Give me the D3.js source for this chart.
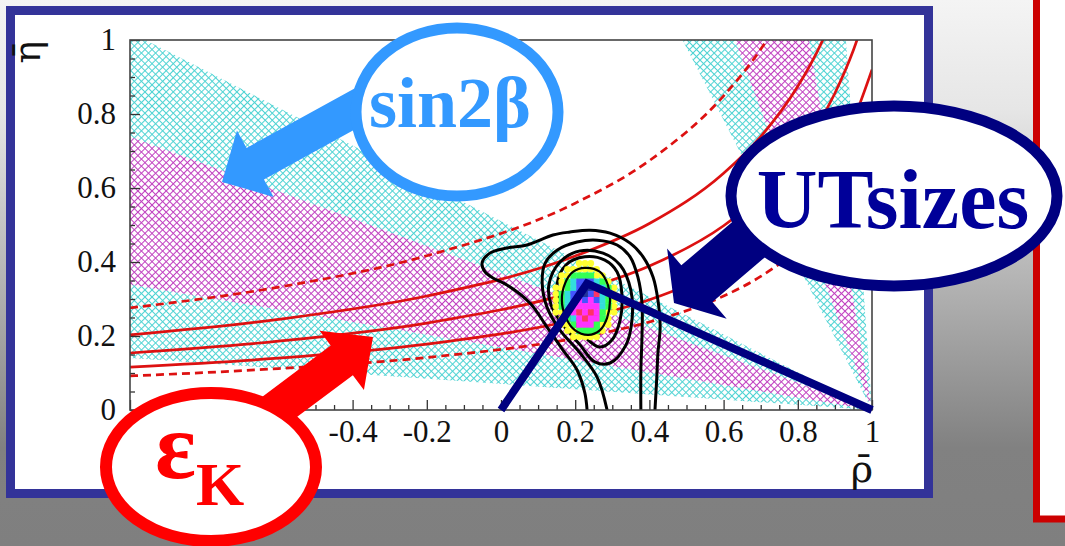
<!DOCTYPE html>
<html>
<head>
<meta charset="utf-8">
<script src="https://cdn.jsdelivr.net/npm/d3@7"></script>
<style>
  html, body { margin: 0; padding: 0; background: #fff; }
  svg { display: block; }
</style>
</head>
<body>
<div id="chart"></div>
<script>
// ---- data ----
const xMajorTicks = [-1, -0.8, -0.6, -0.4, -0.2, 0, 0.2, 0.4, 0.6, 0.8, 1];
const xTickLabels = [-0.4, -0.2, 0, 0.2, 0.4, 0.6, 0.8, 1];   // the others sit under the eps_K bubble
const yMajorTicks = [0, 0.2, 0.4, 0.6, 0.8, 1];

// sin2beta bands (95% and 68%)
const sin2bOuter = [0.14, 0.81];
const sin2bInner = [0.33, 0.65];

// epsilon_K hyperbolas, [rho, eta]
const ekUpper95 = [[-1, 0.276], [-0.6, 0.332], [-0.2, 0.417], [0.2, 0.559], [0.4, 0.674], [0.6, 0.849], [0.7, 0.975], [0.75, 1.053], [0.8, 1.145]];
const ekUpper68 = [[-1, 0.203], [-0.6, 0.245], [-0.2, 0.308], [0.2, 0.416], [0.4, 0.504], [0.6, 0.640], [0.7, 0.739], [0.8, 0.875], [0.85, 0.964], [0.9, 1.072]];
const ekCentral = [[-1, 0.154], [-0.6, 0.186], [-0.2, 0.235], [0.2, 0.320], [0.4, 0.389], [0.6, 0.498], [0.7, 0.579], [0.8, 0.691], [0.9, 0.856], [0.95, 0.973], [1.0, 1.126]];
const ekLower68 = [[-1, 0.116], [-0.6, 0.140], [-0.2, 0.178], [0.2, 0.244], [0.4, 0.298], [0.6, 0.385], [0.7, 0.451], [0.8, 0.543], [0.9, 0.683], [0.95, 0.784], [1.0, 0.920]];
const ekLower95 = [[-1, 0.092], [-0.6, 0.112], [-0.2, 0.142], [0.2, 0.194], [0.4, 0.238], [0.6, 0.308], [0.7, 0.361], [0.8, 0.436], [0.9, 0.550], [0.95, 0.633], [1.0, 0.745]];

// probability contours (open ones run down to eta = 0)
const contour1 = [[0.232, 0], [0.226, 0.046], [0.205, 0.108], [0.167, 0.162], [0.124, 0.224], [0.078, 0.289], [0.016, 0.338], [-0.022, 0.357], [-0.043, 0.373], [-0.051, 0.397], [-0.030, 0.424], [0.016, 0.438], [0.070, 0.446], [0.140, 0.473], [0.186, 0.481], [0.240, 0.486], [0.294, 0.478], [0.348, 0.451], [0.383, 0.414], [0.410, 0.359], [0.423, 0.297], [0.429, 0.224], [0.423, 0.154], [0.420, 0.089], [0.415, 0]];
const contour2 = [[0.286, 0], [0.259, 0.089], [0.213, 0.154], [0.159, 0.216], [0.124, 0.278], [0.111, 0.343], [0.119, 0.397], [0.151, 0.432], [0.205, 0.454], [0.259, 0.459], [0.313, 0.446], [0.348, 0.414], [0.369, 0.359], [0.380, 0.289], [0.380, 0.197], [0.377, 0.108], [0.377, 0]];
const contour3 = [[0.129, 0.338], [0.159, 0.400], [0.213, 0.430], [0.275, 0.424], [0.321, 0.392], [0.350, 0.324], [0.353, 0.243], [0.337, 0.176], [0.294, 0.127], [0.253, 0.130], [0.213, 0.176], [0.167, 0.230], [0.135, 0.284]];
const contour4 = [[0.151, 0.338], [0.175, 0.392], [0.226, 0.414], [0.280, 0.405], [0.313, 0.373], [0.326, 0.311], [0.321, 0.243], [0.299, 0.189], [0.267, 0.170], [0.235, 0.189], [0.194, 0.243], [0.159, 0.289]];
const contour5 = [[0.226, 0.384], [0.267, 0.373], [0.288, 0.338], [0.294, 0.297], [0.286, 0.249], [0.267, 0.216], [0.235, 0.203], [0.199, 0.216], [0.175, 0.249], [0.164, 0.297], [0.173, 0.343], [0.194, 0.373]];

// coloured probability cells around the best fit
const blobOrigin = [0.140, 0.405];
const blobStep = [0.0157, 0.0166];
const blobRows = [
  "....yyy....",
  "..yyyyyy...",
  ".yyggggyy..",
  ".ygcbbbcgy.",
  "yygcbkkbcgy",
  "ygcbbkbrcgy",
  "ygcbmbmbcgy",
  "ygcmmmmmcgy",
  "yygmrmrmgyy",
  ".ygcmrmmgy.",
  ".yygmmmgyy.",
  "..yyggggy..",
  "...yyyyy..."
];

// unitarity triangle apex
const utApex = [0.232, 0.342];

// ---- drawing ----
const W = 1065, H = 546;
const plot = { left: 130, right: 872, top: 40, bottom: 410 };

const svg = d3.select('#chart').append('svg')
  .attr('width', W)
  .attr('height', H);

const defs = svg.append('defs');

const bg = defs.append('linearGradient')
  .attr('id', 'bg')
  .attr('x1', 0).attr('y1', 0).attr('x2', 0).attr('y2', 1);
[[0, '#f4f4f4'], [0.2, '#e6e6e6'], [0.5, '#b6b6b6'], [0.82, '#818181'], [1, '#7f7f7f']]
  .forEach(s => bg.append('stop').attr('offset', s[0]).attr('stop-color', s[1]));

function hatch(id, color) {
  const p = defs.append('pattern')
    .attr('id', id)
    .attr('patternUnits', 'userSpaceOnUse')
    .attr('width', 5)
    .attr('height', 5)
    .attr('patternTransform', 'rotate(45)');
  p.append('path')
    .attr('d', 'M0,2.5H5M2.5,0V5')
    .attr('stroke', color)
    .attr('stroke-width', 1.05)
    .attr('fill', 'none');
}
hatch('hatchCyan', '#4fd3d3');
hatch('hatchMagenta', '#c040c0');

defs.append('clipPath').attr('id', 'plotClip')
  .append('rect')
  .attr('x', plot.left).attr('y', plot.top)
  .attr('width', plot.right - plot.left)
  .attr('height', plot.bottom - plot.top);

svg.append('rect').attr('width', W).attr('height', H).attr('fill', 'url(#bg)');

// red framed panel on the right
svg.append('rect')
  .attr('x', 1036.5).attr('y', -20)
  .attr('width', 100).attr('height', 539)
  .attr('fill', '#fff')
  .attr('stroke', '#cc0000')
  .attr('stroke-width', 7);

// blue framed panel
svg.append('rect')
  .attr('x', 10.5).attr('y', 10.5)
  .attr('width', 918).attr('height', 483)
  .attr('fill', '#fff')
  .attr('stroke', '#333399')
  .attr('stroke-width', 9);

const x = d3.scaleLinear().domain([-1, 1]).range([plot.left, plot.right]);
const y = d3.scaleLinear().domain([0, 1]).range([plot.bottom, plot.top]);

const area = svg.append('g').attr('clip-path', 'url(#plotClip)');

// sin2beta wedges, lines through (1,0)
const L = 3;
function wedge(a, b) {
  return [[1, 0], [1 - L * Math.cos(a), L * Math.sin(a)], [1 - L * Math.cos(b), L * Math.sin(b)]]
    .map(p => [x(p[0]), y(p[1])].join(',')).join(' ');
}
const beta = s => Math.asin(s) / 2;
[false, true].forEach(steep => {
  const ang = s => steep ? Math.PI / 2 - beta(s) : beta(s);
  area.append('polygon')
    .attr('points', wedge(ang(sin2bOuter[0]), ang(sin2bOuter[1])))
    .attr('fill', 'url(#hatchCyan)');
  area.append('polygon')
    .attr('points', wedge(ang(sin2bInner[0]), ang(sin2bInner[1])))
    .attr('fill', '#fff');
  area.append('polygon')
    .attr('points', wedge(ang(sin2bInner[0]), ang(sin2bInner[1])))
    .attr('fill', 'url(#hatchMagenta)');
});

// epsilon_K
const ekLine = d3.line().x(d => x(d[0])).y(d => y(d[1])).curve(d3.curveMonotoneX);
[[ekUpper95, true], [ekUpper68, false], [ekCentral, false], [ekLower68, false], [ekLower95, true]]
  .forEach(([pts, dashed]) => {
    area.append('path')
      .attr('d', ekLine(pts))
      .attr('fill', 'none')
      .attr('stroke', '#dd1111')
      .attr('stroke-width', 2.7)
      .attr('stroke-dasharray', dashed ? '8,5' : null);
  });

// contours
const openLine = d3.line().x(d => x(d[0])).y(d => y(d[1])).curve(d3.curveCatmullRom);
const closedLine = d3.line().x(d => x(d[0])).y(d => y(d[1])).curve(d3.curveCatmullRomClosed);
[contour1, contour2].forEach(c => {
  area.append('path').attr('d', openLine(c))
    .attr('fill', 'none').attr('stroke', '#000').attr('stroke-width', 3);
});
[contour3, contour4].forEach(c => {
  area.append('path').attr('d', closedLine(c))
    .attr('fill', 'none').attr('stroke', '#000').attr('stroke-width', 3);
});

const blobColors = { y: '#ffff33', g: '#33ff55', c: '#33dddd', b: '#4455ff', m: '#ff33ff', r: '#ff3366', k: '#223399' };
const cells = [];
blobRows.forEach((row, i) => {
  row.split('').forEach((ch, j) => {
    if (ch !== '.') cells.push({ rho: blobOrigin[0] + j * blobStep[0], eta: blobOrigin[1] - i * blobStep[1], c: ch });
  });
});
const cw = x(blobStep[0]) - x(0), ch = y(0) - y(blobStep[1]);
area.selectAll('circle.dot')
  .data(cells.filter(d => d.c === 'y'))
  .enter()
  .append('circle')
  .attr('class', 'dot')
  .attr('cx', d => x(d.rho) + cw / 2)
  .attr('cy', d => y(d.eta) + ch / 2)
  .attr('r', 3.3)
  .attr('fill', blobColors.y);
area.selectAll('rect.cell')
  .data(cells.filter(d => d.c !== 'y'))
  .enter()
  .append('rect')
  .attr('class', 'cell')
  .attr('x', d => x(d.rho))
  .attr('y', d => y(d.eta))
  .attr('width', cw + 0.4)
  .attr('height', ch + 0.4)
  .attr('fill', d => blobColors[d.c]);

area.append('path').attr('d', closedLine(contour5))
  .attr('fill', 'none').attr('stroke', '#000').attr('stroke-width', 2.2);

// axes (ROOT style, ticks inside)
const fmt = d => String(+d.toFixed(1));
const xMinor = d3.range(-1, 1.0001, 0.05).filter(v => Math.abs(v * 5 - Math.round(v * 5)) > 1e-6);
const yMinor = d3.range(0, 1.0001, 0.05).filter(v => Math.abs(v * 5 - Math.round(v * 5)) > 1e-6);

function styleAxis(g) {
  g.select('.domain').remove();
  g.selectAll('.tick line').attr('stroke', '#333').attr('stroke-width', 1.3);
  g.attr('font-family', '"Liberation Serif", "Times New Roman", serif')
    .attr('font-size', 31);
  g.selectAll('.tick text').attr('fill', '#111');
}

svg.append('g').attr('transform', `translate(0,${plot.bottom})`)
  .call(d3.axisBottom(x).tickValues(xMinor).tickSize(-5).tickFormat(''))
  .call(styleAxis);
svg.append('g').attr('transform', `translate(0,${plot.bottom})`)
  .call(d3.axisBottom(x).tickValues(xMajorTicks).tickSize(-10).tickFormat(''))
  .call(styleAxis);
svg.append('g').attr('transform', `translate(0,${plot.bottom})`)
  .call(d3.axisBottom(x).tickValues(xTickLabels).tickSize(0).tickPadding(10).tickFormat(fmt))
  .call(styleAxis);
svg.append('g').attr('transform', `translate(${plot.left},0)`)
  .call(d3.axisLeft(y).tickValues(yMinor).tickSize(-5).tickFormat(''))
  .call(styleAxis);
svg.append('g').attr('transform', `translate(${plot.left},0)`)
  .call(d3.axisLeft(y).tickValues(yMajorTicks).tickSize(-10).tickPadding(14).tickFormat(fmt))
  .call(styleAxis);

svg.append('rect')
  .attr('x', plot.left).attr('y', plot.top)
  .attr('width', plot.right - plot.left)
  .attr('height', plot.bottom - plot.top)
  .attr('fill', 'none')
  .attr('stroke', '#444')
  .attr('stroke-width', 1.6);

svg.append('text')
  .attr('transform', 'translate(40,52) rotate(-90)')
  .attr('text-anchor', 'middle')
  .attr('font-family', '"DejaVu Serif", "Liberation Serif", serif')
  .attr('font-size', 38)
  .attr('fill', '#111')
  .text('\u03B7\u0304');
svg.append('text')
  .attr('x', 862).attr('y', 482)
  .attr('text-anchor', 'middle')
  .attr('font-family', '"DejaVu Serif", "Liberation Serif", serif')
  .attr('font-size', 38)
  .attr('fill', '#111')
  .text('\u03C1\u0304');

// unitarity triangle sides
svg.append('path')
  .attr('d', d3.line().x(d => x(d[0])).y(d => y(d[1]))([[0, 0], utApex, [1, 0]]))
  .attr('fill', 'none')
  .attr('stroke', '#000080')
  .attr('stroke-width', 8);

// ---- annotations ----
function blockArrow(tip, tail, shaftW, headW, headL) {
  const dx = tail[0] - tip[0], dy = tail[1] - tip[1];
  const len = Math.hypot(dx, dy);
  const ux = dx / len, uy = dy / len, nx = -uy, ny = ux;
  const bx = tip[0] + ux * headL, by = tip[1] + uy * headL;
  const pts = [
    tip,
    [bx + nx * headW / 2, by + ny * headW / 2],
    [bx + nx * shaftW / 2, by + ny * shaftW / 2],
    [tail[0] + nx * shaftW / 2, tail[1] + ny * shaftW / 2],
    [tail[0] - nx * shaftW / 2, tail[1] - ny * shaftW / 2],
    [bx - nx * shaftW / 2, by - ny * shaftW / 2],
    [bx - nx * headW / 2, by - ny * headW / 2]
  ];
  return pts.map(p => p.join(',')).join(' ');
}

const notes = [
  { color: '#3399ff', tip: [222, 182], tail: [400, 84], shaftW: 36, headW: 76, headL: 38,
    cx: 457, cy: 112, rx: 101, ry: 84, sw: 11 },
  { color: '#000080', tip: [674, 303], tail: [780, 213], shaftW: 48, headW: 92, headL: 30,
    cx: 894, cy: 196, rx: 163, ry: 90, sw: 11 },
  { color: '#ff0000', tip: [373, 337], tail: [262, 420], shaftW: 37, headW: 74, headL: 39,
    cx: 211, cy: 467, rx: 105, ry: 74, sw: 12 }
];

notes.forEach(n => {
  svg.append('polygon')
    .attr('points', blockArrow(n.tip, n.tail, n.shaftW, n.headW, n.headL))
    .attr('fill', n.color);
  svg.append('ellipse')
    .attr('cx', n.cx).attr('cy', n.cy)
    .attr('rx', n.rx).attr('ry', n.ry)
    .attr('fill', '#fff')
    .attr('stroke', n.color)
    .attr('stroke-width', n.sw);
});

const serifBold = '"Liberation Serif", "Times New Roman", serif';
svg.append('text')
  .attr('x', 450).attr('y', 127)
  .attr('text-anchor', 'middle')
  .attr('font-family', serifBold)
  .attr('font-weight', 'bold')
  .attr('font-size', 72)
  .attr('fill', '#3399ff')
  .text('sin2\u03B2');

svg.append('text')
  .attr('x', 893).attr('y', 228)
  .attr('text-anchor', 'middle')
  .attr('font-family', serifBold)
  .attr('font-weight', 'bold')
  .attr('font-size', 84)
  .attr('fill', '#000099')
  .text('UTsizes');

const ek = svg.append('text')
  .attr('x', 155).attr('y', 478)
  .attr('font-family', serifBold)
  .attr('font-weight', 'bold')
  .attr('font-size', 96)
  .attr('fill', '#ff0000')
  .text('\u03B5');
ek.append('tspan')
  .attr('dy', 27)
  .attr('font-size', 62)
  .text('K');
</script>
</body>
</html>
